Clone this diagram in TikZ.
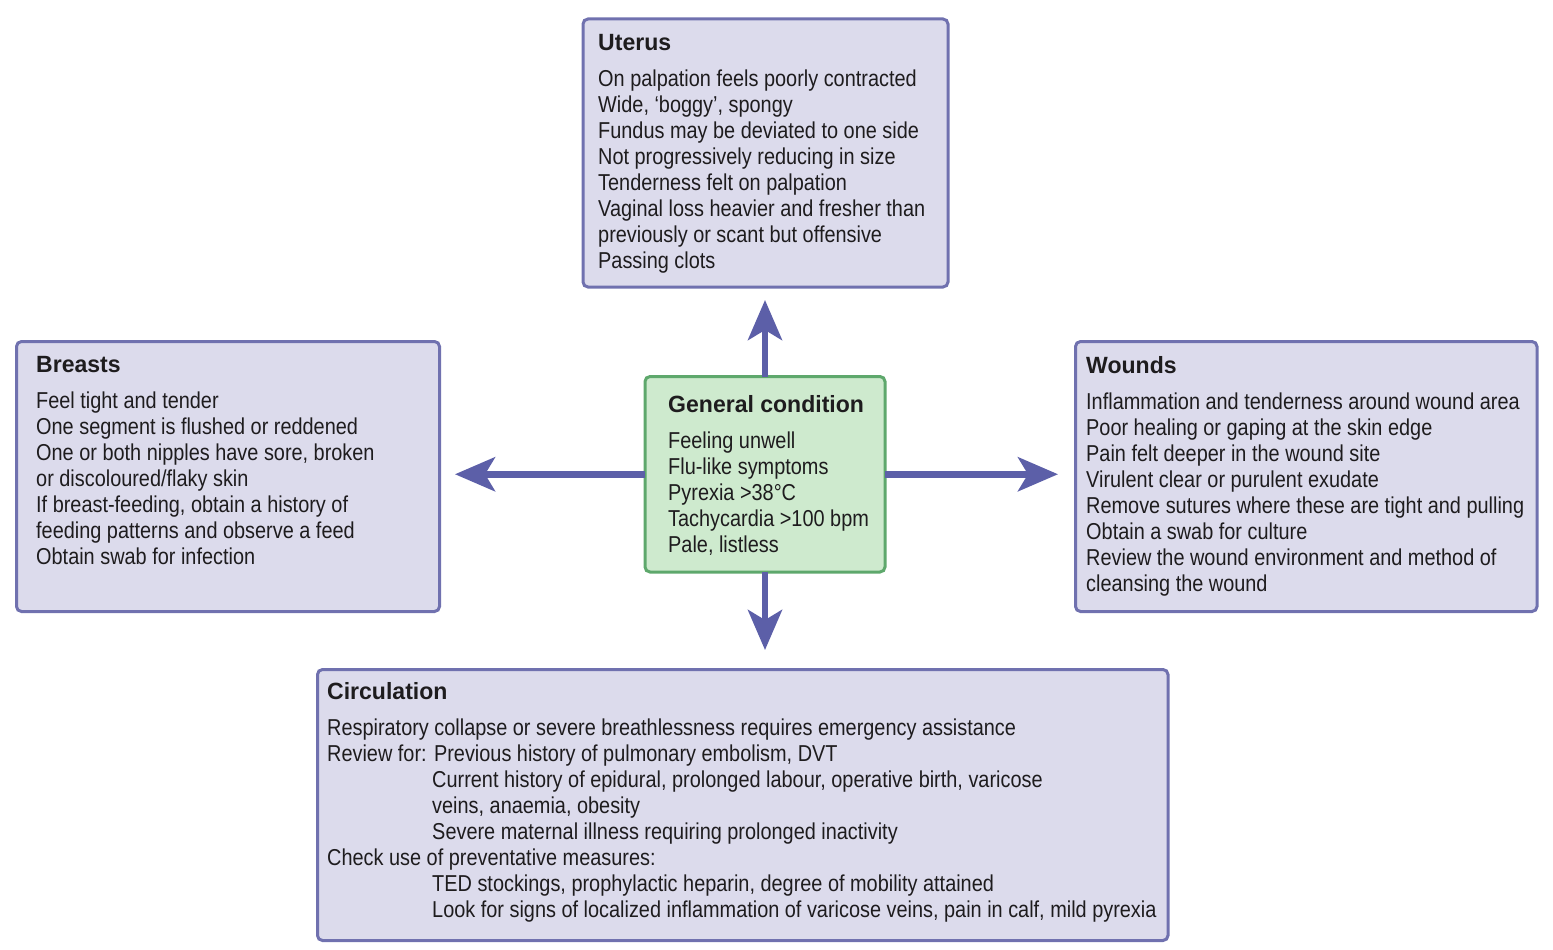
\documentclass[tikz,border=0pt]{standalone}
\usepackage{fontspec}
\setmainfont{Liberation Sans}[FakeStretch=0.865]
\newfontfamily\headfont{Liberation Sans}[FakeStretch=0.98]
\usepackage{tikz}
\usetikzlibrary{
arrows,
arrows.meta,
backgrounds,
calc,
positioning,
shapes
}
\tikzset{>=latex}
\definecolor{panelfill}{RGB}{220,219,236}
\definecolor{panelline}{RGB}{112,113,175}
\definecolor{genfill}{RGB}{206,234,206}
\definecolor{genline}{RGB}{94,168,108}
\definecolor{linkc}{RGB}{92,95,168}
\definecolor{inkc}{RGB}{30,28,30}
\tikzset{
panel/.style={draw=panelline, fill=panelfill, line width=3pt, rounded corners=5pt, outer sep=0pt, inner sep=0pt},
gencond/.style={panel, draw=genline, fill=genfill},
boxtext/.style={anchor=north west, inner sep=0pt, align=left, text=inkc, font=\fontsize{23}{26}\selectfont},
link/.style={draw=linkc, line width=6.5pt, -{Stealth[length=40pt,width=34pt,inset=10pt]}}
}
\newcommand{\boxhead}[1]{{\headfont\fontsize{23.5}{26}\selectfont\bfseries #1}\\[10pt]}
\newcommand{\rvind}{\phantom{Review for:\ }}

\begin{document}
\begin{tikzpicture}[x=1pt, y=-1pt, scale=1.0, every node/.style={scale=1.0}]
	\useasboundingbox (0,0) rectangle (1553,950);
	\node[panel, minimum width=365pt, minimum height=268pt] (ut) at (765.5,153) {};
	\node[panel, minimum width=423pt, minimum height=270pt] (br) at (228,476.5) {};
	\node[panel, minimum width=461.5pt, minimum height=270pt] (wo) at (1306.25,476.5) {};
	\node[gencond, minimum width=240pt, minimum height=195.5pt] (gen) at (765,474.25) {};
	\node[panel, minimum width=850.5pt, minimum height=271pt] (ci) at (742.75,805) {};
	\node[boxtext, below right=15.5pt and 15pt of ut.north west] (utT) {\boxhead{Uterus}
		On palpation feels poorly contracted\\
		Wide, ‘boggy’, spongy\\
		Fundus may be deviated to one side\\
		Not progressively reducing in size\\
		Tenderness felt on palpation\\
		Vaginal loss heavier and fresher than\\
		previously or scant but offensive\\
		Passing clots};
	\node[boxtext, below right=15pt and 19.5pt of br.north west] (brT) {\boxhead{Breasts}
		Feel tight and tender\\
		One segment is flushed or reddened\\
		One or both nipples have sore, broken\\
		or discoloured/flaky skin\\
		If breast-feeding, obtain a history of\\
		feeding patterns and observe a feed\\
		Obtain swab for infection};
	\node[boxtext, below right=19pt and 23pt of gen.north west] (genT) {\boxhead{General condition}
		Feeling unwell\\
		Flu-like symptoms\\
		Pyrexia >38°C\\
		Tachycardia >100 bpm\\
		Pale, listless};
	\node[boxtext, below right=15pt and 10.5pt of wo.north west] (woT) {\boxhead{Wounds}
		Inflammation and tenderness around wound area\\
		Poor healing or gaping at the skin edge\\
		Pain felt deeper in the wound site\\
		Virulent clear or purulent exudate\\
		Remove sutures where these are tight and pulling\\
		Obtain a swab for culture\\
		Review the wound environment and method of\\
		cleansing the wound};
	\node[boxtext, below right=13pt and 9.5pt of ci.north west] (ciT) {\boxhead{Circulation}
		Respiratory collapse or severe breathlessness requires emergency assistance\\
		Review for: Previous history of pulmonary embolism, DVT\\
		\rvind Current history of epidural, prolonged labour, operative birth, varicose\\
		\rvind veins, anaemia, obesity\\
		\rvind Severe maternal illness requiring prolonged inactivity\\
		Check use of preventative measures:\\
		\rvind TED stockings, prophylactic heparin, degree of mobility attained\\
		\rvind Look for signs of localized inflammation of varicose veins, pain in calf, mild pyrexia};
	\draw[link, shorten >=13pt] (gen.north) -- (gen.north |- ut.south);
	\draw[link, shorten >=19.5pt] (gen.south) -- (gen.south |- ci.north);
	\draw[link, shorten >=15.5pt] (gen.west) -- (gen.west -| br.east);
	\draw[link, shorten >=17.5pt] (gen.east) -- (gen.east -| wo.west);
\end{tikzpicture}
\end{document}
